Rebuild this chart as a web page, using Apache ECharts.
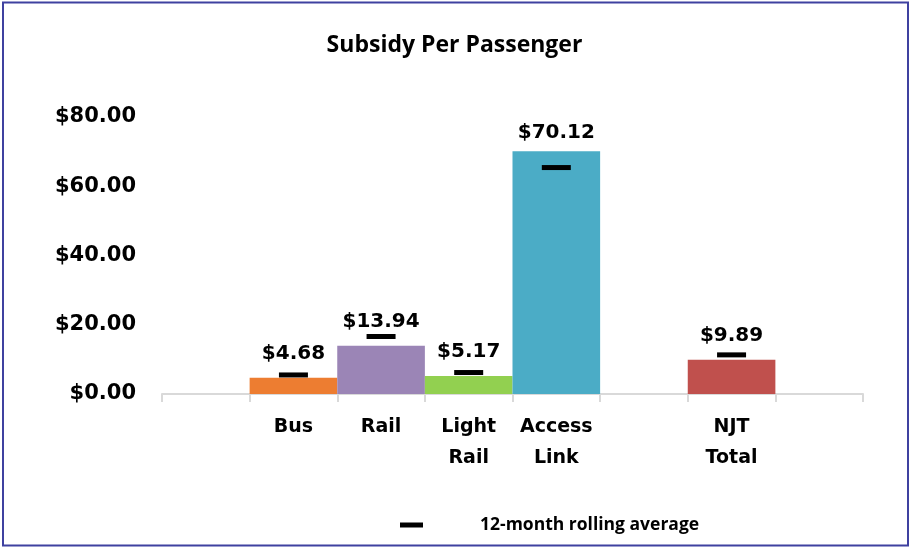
<!DOCTYPE html>
<html>
<head>
<meta charset="utf-8">
<script src="https://cdn.jsdelivr.net/npm/echarts@6/dist/echarts.min.js"></script>
<style>
  html, body { margin: 0; padding: 0; background: #fff; }
  #chart { width: 909px; height: 547px; }
</style>
</head>
<body>
<div id="chart"></div>
<script>
const categories = ["", "Bus", "Rail", "Light\nRail", "Access\nLink", "", "NJT\nTotal", ""];
const subsidy = [null, 4.68, 13.94, 5.17, 70.12, null, 9.89, null];
const rollingAvg = [null, 5.5, 16.6, 6.2, 65.4, null, 11.3, null];
const barColors = ["", "#ED7D31", "#9B85B6", "#92D050", "#4BACC6", "", "#C0504D", ""];
const yMin = 0, yMax = 80, yStep = 20;

const money = (v) => "$" + v.toFixed(2);

const chart = echarts.init(document.getElementById("chart"));

chart.setOption({
  backgroundColor: "#fff",
  animation: false,
  graphic: [
    {
      type: "rect",
      shape: { x: 3, y: 2.5, width: 905, height: 543 },
      style: { fill: "none", stroke: "#3F41A0", lineWidth: 2 },
      silent: true,
    },
  ],
  title: {
    text: "Subsidy Per Passenger",
    left: "center",
    top: 29,
    textStyle: {
      fontFamily: "Open Sans",
      fontWeight: "bold",
      fontSize: 23,
      color: "#000",
    },
  },
  legend: {
    left: 400,
    top: 514,
    padding: 0,
    data: [{ name: "12-month rolling average", icon: "rect" }],
    itemWidth: 23,
    itemHeight: 5,
    itemStyle: { color: "#000", opacity: 1 },
    textStyle: {
      fontFamily: "Open Sans",
      fontWeight: "bold",
      fontSize: 17.5,
      lineHeight: 22,
      color: "#000",
      padding: [0, 0, 0, 52],
    },
  },
  grid: { left: 162, right: 46, top: 117, bottom: 153 },
  xAxis: {
    type: "category",
    data: categories,
    axisLine: { lineStyle: { color: "#D9D9D9", width: 2 } },
    axisTick: { show: true, length: 8, lineStyle: { color: "#D9D9D9", width: 2 } },
    axisLabel: {
      interval: 0,
      margin: 18,
      fontFamily: "DejaVu Sans",
      fontWeight: "bold",
      fontSize: 19,
      lineHeight: 31,
      color: "#000",
    },
  },
  yAxis: {
    type: "value",
    min: yMin,
    max: yMax,
    interval: yStep,
    splitLine: { show: false },
    axisLine: { show: false },
    axisTick: { show: false },
    axisLabel: {
      margin: 26,
      padding: [6, 0, 0, 0],
      formatter: money,
      fontFamily: "DejaVu Sans",
      fontWeight: "bold",
      fontSize: 21,
      color: "#000",
    },
  },
  series: [
    {
      type: "bar",
      barWidth: "100%",
      data: subsidy.map((v, i) => ({
        value: v,
        itemStyle: { color: barColors[i] },
        label: i === 4 ? { distance: 6 } : undefined,
      })),
      label: {
        show: true,
        position: "top",
        distance: 12,
        formatter: (p) => money(p.value),
        fontFamily: "DejaVu Sans",
        fontWeight: "bold",
        fontSize: 20,
        lineHeight: 24,
        color: "#000",
      },
    },
    {
      type: "scatter",
      name: "12-month rolling average",
      data: rollingAvg,
      symbol: "rect",
      symbolSize: [29, 5],
      itemStyle: { color: "#000", opacity: 1 },
      z: 5,
    },
  ],
});
</script>
</body>
</html>
